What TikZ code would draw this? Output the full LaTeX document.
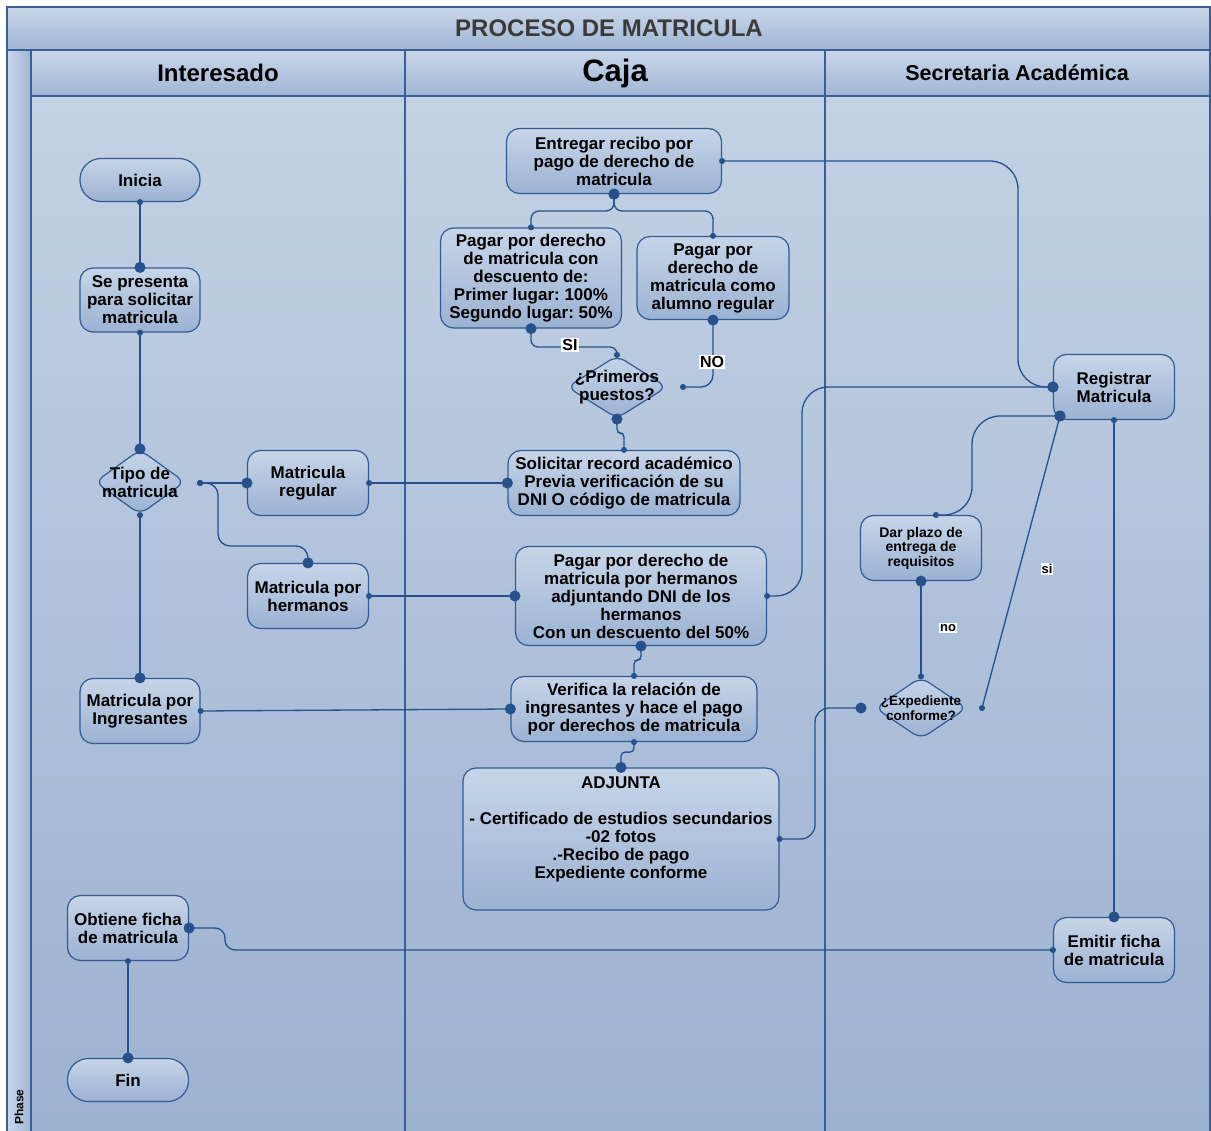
\documentclass[tikz,border=0pt]{standalone}
\usepackage{fontspec}
\setmainfont{Liberation Sans}
\usetikzlibrary{shapes.geometric,arrows.meta}
\frenchspacing
\definecolor{laneline}{HTML}{3B5F94}
\definecolor{linkblue}{HTML}{27518A}
\definecolor{bgtop}{HTML}{C3D1E4}
\definecolor{bgbot}{HTML}{9CB2D1}
\definecolor{hdtop}{HTML}{C9D6E8}
\definecolor{hdbot}{HTML}{A0B6D5}
\definecolor{boxtop}{HTML}{C7D5E8}
\definecolor{boxbot}{HTML}{9BB2D3}
\definecolor{boxline}{HTML}{335A92}
\definecolor{titlegray}{HTML}{3A3A3A}
\tikzset{
  paso/.style={draw=boxline, line width=1.2pt, rounded corners=13pt, top color=boxtop, bottom color=boxbot,
    align=center, inner sep=2pt, minimum width=121pt, minimum height=65pt, text=black,
    font=\bfseries\fontsize{17}{18}\selectfont},
  extremo/.style={paso, rounded corners=21pt, minimum height=43pt},
  rombo/.style={diamond, draw=boxline, line width=1.2pt, rounded corners=9pt, top color=boxtop,
    bottom color=boxbot, inner sep=0pt},
  rotulo/.style={align=center, text=black, font=\bfseries\fontsize{17}{18}\selectfont},
  enlace/.style={draw=linkblue, line width=1.3pt, rounded corners=12pt},
  punto/.style={enlace, {Circle[length=6pt]}-{Circle[length=11pt]}, shorten <=-3pt, shorten >=-5.5pt},
  puntor/.style={enlace, {Circle[length=11pt]}-{Circle[length=6pt]}, shorten <=-5.5pt, shorten >=-3pt},
  etiq/.style={fill=white, inner sep=1pt, text=black, font=\bfseries\fontsize{16}{16}\selectfont}
}
\begin{document}
\begin{tikzpicture}[x=1pt,y=-1pt]
  \useasboundingbox (0,0) rectangle (1211,1131);
  % carriles
  \shade[top color=bgtop, bottom color=bgbot] (31,96) rectangle (1210,1131);
  \shade[top color=hdtop, bottom color=hdbot] (7,7) rectangle (1210,50);
  \shade[top color=hdtop, bottom color=hdbot] (31,50) rectangle (1210,96);
  \shade[left color=hdtop, right color=hdbot] (7,50) rectangle (31,1131);
  \draw[laneline, line width=1.2pt] (7,1131) -- (7,7) -- (1210,7) -- (1210,1131);
  \draw[laneline, line width=1.2pt] (7,50) -- (1210,50) (31,96) -- (1210,96)
    (31,50) -- (31,1131) (405,50) -- (405,1131) (825,50) -- (825,1131);
  \node[text=titlegray, font=\bfseries\fontsize{24}{24}\selectfont] (titulo) at (609,28) {PROCESO DE MATRICULA};
  \node[font=\bfseries\fontsize{24}{24}\selectfont] (interesado) at (218,73) {Interesado};
  \node[font=\bfseries\fontsize{31}{31}\selectfont] (caja) at (615,73) {Caja};
  \node[font=\bfseries\fontsize{21.5}{21.5}\selectfont] (secretaria) at (1017,73) {Secretaria Académica};
  \node[rotate=90, font=\bfseries\fontsize{12}{12}\selectfont] (fase) at (19,1107) {Phase};

  % Interesado
  \node[extremo, minimum width=120pt] (inicia) at (140,180) {Inicia};
  \node[paso, minimum width=120pt, minimum height=64pt] (presenta) at (140,300) {Se presenta\\para solicitar\\matricula};
  \node[rombo, minimum width=90pt, minimum height=65pt, label={[rotulo]center:Tipo de\\matricula}] (tipo) at (140,482) {};
  \node[paso] (mreg) at (308,483) {Matricula\\regular};
  \node[paso] (mherm) at (308,596) {Matricula por\\hermanos};
  \node[paso, minimum width=120pt] (ingres) at (140,711) {Matricula por\\Ingresantes};
  \node[paso] (obtiene) at (128,928) {Obtiene ficha\\de matricula};
  \node[extremo] (fin) at (128,1080) {Fin};

  % Caja
  \node[paso, minimum width=215pt] (recibo) at (614,161) {Entregar recibo por\\pago de derecho de\\matricula};
  \node[paso, minimum width=181pt, minimum height=100pt] (pdesc) at (531,278) {Pagar por derecho\\de matricula con\\descuento de:\\Primer lugar: 100\%\\Segundo lugar: 50\%};
  \node[paso, minimum width=152pt, minimum height=83pt] (preg) at (713,278) {Pagar por\\derecho de\\matricula como\\alumno regular};
  \node[rombo, minimum width=100pt, minimum height=63pt, label={[rotulo]center:¿Primeros\\puestos?}] (prim) at (617,387) {};
  \node[paso, minimum width=232pt] (solic) at (624,483) {Solicitar record académico\\Previa verificación de su\\DNI O código de matricula};
  \node[paso, minimum width=251pt, minimum height=99pt] (pherm) at (641,596) {Pagar por derecho de\\matricula por hermanos\\adjuntando DNI de los\\hermanos\\Con un descuento del 50\%};
  \node[paso, minimum width=246pt] (verif) at (634,709) {Verifica la relación de\\ingresantes y hace el pago\\por derechos de matricula};
  \node[paso, minimum width=316pt, minimum height=142pt,
    label={[rotulo, yshift=10pt]center:ADJUNTA\\[18pt]- Certificado de estudios secundarios\\-02 fotos\\.-Recibo de pago\\Expediente conforme}] (adj) at (621,839) {};

  % Secretaria
  \node[paso] (reg) at (1114,387) {Registrar\\Matricula};
  \node[paso, font=\bfseries\fontsize{14}{14.5}\selectfont] (plazo) at (921,548) {Dar plazo de\\entrega de\\requisitos};
  \node[rombo, minimum width=92pt, minimum height=62pt,
    label={[rotulo, font=\bfseries\fontsize{13.5}{14.5}\selectfont]center:¿Expediente\\conforme?}] (exp) at (921,708) {};
  \node[paso] (emitir) at (1114,950) {Emitir ficha\\de matricula};

  \coordinate (tipoout) at (200,483);
  \coordinate (primout) at (683,387);
  \coordinate (expin) at (861,708);
  \coordinate (expout) at (982,708);
  \coordinate (regcorner) at (1060,416);
  \coordinate (plazoin) at (936,515);

  % conectores
  \draw[punto] (inicia.south) -- (presenta.north);
  \draw[punto] (presenta.south) -- (tipo.north);
  \draw[punto] (tipo.south) -- (ingres.north);
  \draw[punto] (tipoout) -- (mreg.west);
  \draw[punto] (tipoout) -- (218,483) -- (218,546) -| (mherm.north);
  \draw[punto] (mreg.east) -- (solic.west);
  \draw[punto] (mherm.east) -- (pherm.west);
  \draw[punto] (ingres.east) -- (verif.west);
  \draw[punto, rounded corners=8pt] (pdesc.north) |- (614,211) -- (recibo.south);
  \draw[punto, rounded corners=8pt] (preg.north) |- (614,211) -- (recibo.south);
  \draw[puntor, rounded corners=7pt] (pdesc.south) |- (600,347) -| (prim.north);
  \draw[puntor] (preg.south) |- (primout);
  \draw[puntor, rounded corners=4pt] (prim.south) -- ++(0,14) -| (solic.north);
  \draw[punto, rounded corners=28pt] (recibo.east) -| (1018,387) -- (reg.west);
  \draw[punto, rounded corners=26pt] (pherm.east) -| (802,387) -- (reg.west);
  \draw[puntor, rounded corners=4pt] (pherm.south) -- ++(0,14) -| (verif.north);
  \draw[punto, rounded corners=4pt] (verif.south) -- ++(0,10) -| (adj.north);
  \draw[punto, rounded corners=14pt] (adj.east) -| (815,708) -- (expin);
  \draw[puntor, rounded corners=28pt] (regcorner) -| (972,515) -- (plazoin);
  \draw[puntor] (plazo.south) -- (exp.north);
  \draw[punto] (expout) -- (regcorner);
  \draw[punto] (reg.south) -- (emitir.north);
  \draw[punto, rounded corners=10pt] (emitir.west) -| (225,928) -- (obtiene.east);
  \draw[punto] (obtiene.south) -- (fin.north);

  % etiquetas
  \node[etiq] (si1) at (570,345) {SI};
  \node[etiq] (no1) at (712,362) {NO};
  \node[etiq, font=\bfseries\fontsize{13}{13}\selectfont] (si2) at (1047,569) {si};
  \node[etiq, font=\bfseries\fontsize{13}{13}\selectfont] (no2) at (948,628) {no};
\end{tikzpicture}
\end{document}
